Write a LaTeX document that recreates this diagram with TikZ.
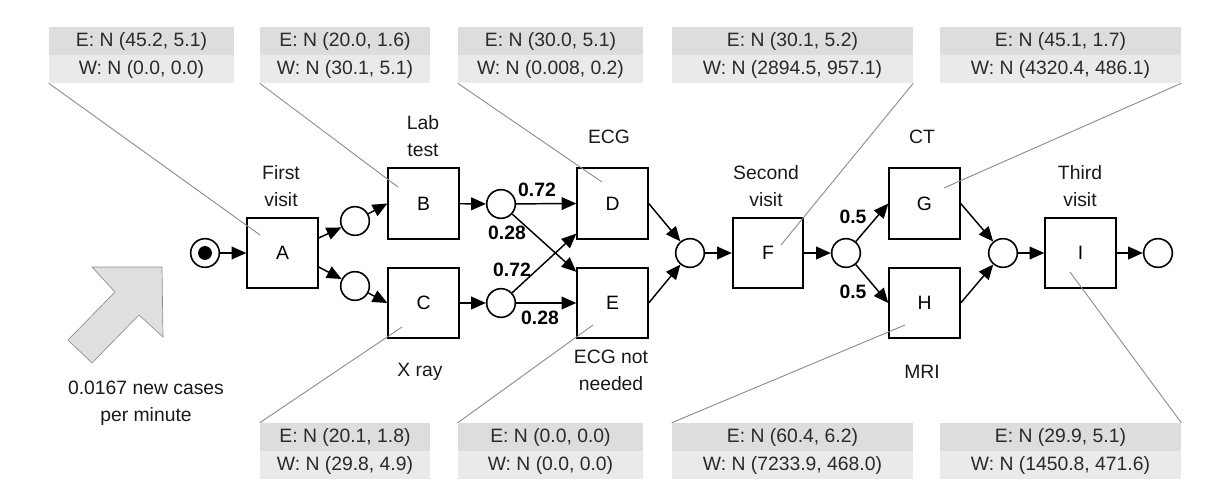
\documentclass[tikz,border=0pt]{standalone}
\usepackage{fontspec}
\setmainfont{Liberation Sans}
\usetikzlibrary{arrows.meta,calc}
\definecolor{rowE}{HTML}{DCDDDE}
\definecolor{rowW}{HTML}{E9EAEB}
\definecolor{tgray}{HTML}{2A2A2A}
\definecolor{lgray}{HTML}{8E8E8E}
\definecolor{arrfill}{HTML}{DEDFE0}
\begin{document}
\begin{tikzpicture}[x=0.75pt,y=-0.75pt,
  every node/.style={font=\fontsize{14.5}{20.25}\selectfont},
  task/.style={draw,line width=1.3pt,minimum width=53pt,minimum height=53pt,inner sep=0pt,fill=white},
  place/.style={draw,circle,line width=1.2pt,minimum size=21.5pt,inner sep=0pt,fill=white},
  flow/.style={line width=1.1pt,-{Triangle[length=11pt,width=9.5pt]}},
  lbl/.style={align=center,inner sep=0pt,text=black!90},
  prob/.style={font=\fontsize{14.5}{20.25}\selectfont\bfseries,inner sep=0pt},
  erow/.style={fill=rowE,minimum height=21pt,inner sep=0pt,text=tgray},
  wrow/.style={fill=rowW,minimum height=21pt,inner sep=0pt,text=tgray},
  callout/.style={draw=lgray,line width=0.7pt}]
\useasboundingbox (0,0) rectangle (1205,495);

% incoming arrival arrow
\filldraw[fill=arrfill,draw=lgray,line width=0.5pt]
  (162,267) -- (92,267) -- (115,292) -- (68,340) -- (92,363) -- (139,315) -- (163,337) -- cycle;
\node[lbl] (rate) at (146,403) {0.0167 new cases\\per minute};

% places
\node[place] (s) at (205,253) {};
\fill (s.center) circle (5.2pt);
\node[place] (p1) at (355,221) {};
\node[place] (p2) at (355,286) {};
\node[place] (p3) at (501,204) {};
\node[place] (p4) at (501,303) {};
\node[place] (p5) at (690,253) {};
\node[place] (p6) at (846,253) {};
\node[place] (p7) at (1003,253) {};
\node[place] (pe) at (1158,253) {};

% tasks
\node[task] (A) at (282.5,253) {A};
\node[task] (B) at (423.5,203.5) {B};
\node[task] (C) at (423.5,303) {C};
\node[task] (D) at (612.5,203.5) {D};
\node[task] (E) at (612.5,303) {E};
\node[task] (F) at (768,253) {F};
\node[task] (G) at (924.5,203.5) {G};
\node[task] (H) at (924.5,303) {H};
\node[task] (I) at (1080.5,253) {I};

% task labels
\node[lbl] at (281,186.5) {First\\visit};
\node[lbl] at (423,136.5) {Lab\\test};
\node[lbl] at (609,137) {ECG};
\node[lbl] at (766,186.5) {Second\\visit};
\node[lbl] at (922,137) {CT};
\node[lbl] at (1080,186.5) {Third\\visit};
\node[lbl] at (420,372) {X ray};
\node[lbl] at (611,370) {ECG not\\needed};
\node[lbl] at (922,372) {MRI};

% flows
\draw[flow] (s) -- (A);
\draw[flow] ($(A.east)+(0,-15)$) -- (p1);
\draw[flow] ($(A.east)+(0,14)$) -- (p2);
\draw[flow] (p1) -- (B.west);
\draw[flow] (p2) -- (C.west);
\draw[flow] (B) -- (p3);
\draw[flow] (C) -- (p4);
\draw[flow] (p3) -- (D.west);
\draw[flow] (p3) -- ($(E.north west)+(0,5)$);
\draw[flow] (p4) -- ($(D.south west)+(0,-6)$);
\draw[flow] (p4) -- (E.west);
\draw[flow] (D.east) -- (p5);
\draw[flow] (E.east) -- (p5);
\draw[flow] (p5) -- (F);
\draw[flow] (F) -- (p6);
\draw[flow] (p6) -- (G.west);
\draw[flow] (p6) -- (H.west);
\draw[flow] (G.east) -- (p7);
\draw[flow] (H.east) -- (p7);
\draw[flow] (p7) -- (I);
\draw[flow] (I) -- (pe);

% probabilities
\node[prob] at (537,190) {0.72};
\node[prob] at (507,233) {0.28};
\node[prob] at (512,270) {0.72};
\node[prob] at (540,318) {0.28};
\node[prob] at (853,217) {0.5};
\node[prob] at (853,292) {0.5};

% tables (top)
\node[erow,minimum width=138.75pt] (t1e) at (141.5,41) {E: N (45.2, 5.1)};
\node[wrow,minimum width=138.75pt] (t1w) at (141.5,69) {W: N (0.0, 0.0)};
\node[erow,minimum width=127.5pt] (t2e) at (345,41) {E: N (20.0, 1.6)};
\node[wrow,minimum width=127.5pt] (t2w) at (345,69) {W: N (30.1, 5.1)};
\node[erow,minimum width=138.75pt] (t3e) at (550.5,41) {E: N (30.0, 5.1)};
\node[wrow,minimum width=138.75pt] (t3w) at (550.5,69) {W: N (0.008, 0.2)};
\node[erow,minimum width=180.75pt] (t4e) at (792.5,41) {E: N (30.1, 5.2)};
\node[wrow,minimum width=180.75pt] (t4w) at (792.5,69) {W: N (2894.5, 957.1)};
\node[erow,minimum width=180.75pt] (t5e) at (1060.5,41) {E: N (45.1, 1.7)};
\node[wrow,minimum width=180.75pt] (t5w) at (1060.5,69) {W: N (4320.4, 486.1)};
% tables (bottom)
\node[erow,minimum width=127.5pt] (b1e) at (345,437) {E: N (20.1, 1.8)};
\node[wrow,minimum width=127.5pt] (b1w) at (345,465) {W: N (29.8, 4.9)};
\node[erow,minimum width=138.75pt] (b2e) at (550.5,437) {E: N (0.0, 0.0)};
\node[wrow,minimum width=138.75pt] (b2w) at (550.5,465) {W: N (0.0, 0.0)};
\node[erow,minimum width=180.75pt] (b3e) at (792.5,437) {E: N (60.4, 6.2)};
\node[wrow,minimum width=180.75pt] (b3w) at (792.5,465) {W: N (7233.9, 468.0)};
\node[erow,minimum width=180.75pt] (b4e) at (1060.5,437) {E: N (29.9, 5.1)};
\node[wrow,minimum width=180.75pt] (b4w) at (1060.5,465) {W: N (1450.8, 471.6)};

% callout ends
\coordinate (cA) at (260,235);
\coordinate (cB) at (398,187);
\coordinate (cD) at (602,182);
\coordinate (cF) at (781,245);
\coordinate (cG) at (944,188);
\coordinate (cC) at (402,327);
\coordinate (cE) at (593,325);
\coordinate (cH) at (905,325);
\coordinate (cI) at (1070,272);

\draw[callout] (t1w.south west) -- (cA);
\draw[callout] (t2w.south west) -- (cB);
\draw[callout] (t3w.south west) -- (cD);
\draw[callout] (t4w.south east) -- (cF);
\draw[callout] (t5w.south east) -- (cG);
\draw[callout] (b1e.north west) -- (cC);
\draw[callout] (b2e.north west) -- (cE);
\draw[callout] (b3e.north west) -- (cH);
\draw[callout] (b4e.north east) -- (cI);
\end{tikzpicture}
\end{document}
